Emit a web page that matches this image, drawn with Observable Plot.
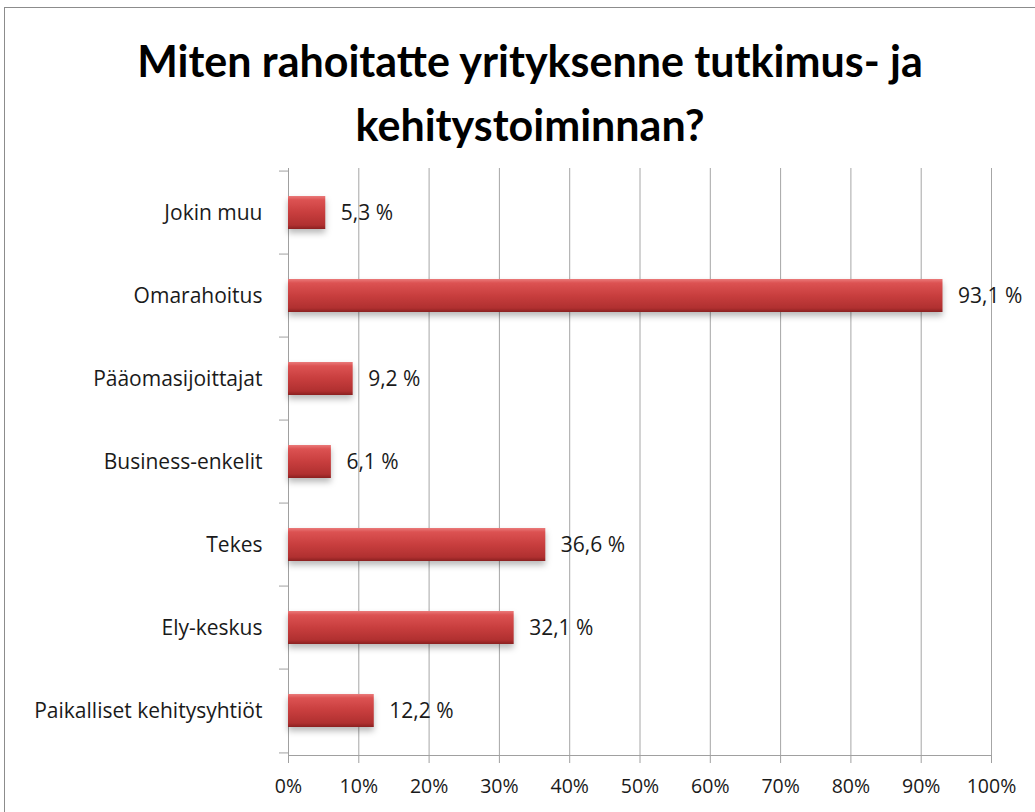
<!DOCTYPE html>
<html><head><meta charset="utf-8">
<script src="https://cdn.jsdelivr.net/npm/d3@7"></script>
<script src="https://cdn.jsdelivr.net/npm/@observablehq/plot@0.6"></script>
<style>
body{margin:0;background:#fff;width:1035px;height:812px;overflow:hidden;position:relative;font-family:Lato,sans-serif}
#frame{position:absolute;left:4px;top:7px;width:1040px;height:820px;border:1.5px solid #8c8c8c;box-sizing:border-box}
#title{position:absolute;left:0;width:1060px;top:29px;text-align:center;font-weight:bold;font-size:43px;line-height:64px;color:#000}
#chart{position:absolute;left:0;top:150px}
</style></head><body>
<div id="frame"></div>
<div id="title">Miten rahoitatte yrityksenne tutkimus- ja<br>kehitystoiminnan?</div>
<div id="chart"></div>
<script>
const categories = ["Jokin muu","Omarahoitus","Pääomasijoittajat","Business-enkelit","Tekes","Ely-keskus","Paikalliset kehitysyhtiöt"];
const values = [0.053, 0.931, 0.092, 0.061, 0.366, 0.321, 0.122];
const xTicks = [0,0.1,0.2,0.3,0.4,0.5,0.6,0.7,0.8,0.9,1];

const data = categories.map((c,i)=>({category:c, value:values[i]}));
const W=1035, H=662, mT=18, mB=57;
const step = (H-mT-mB)/categories.length;
const fmt = v => (v*100).toFixed(1).replace(".", ",") + " %";
const FONT = "'Open Sans', sans-serif";

const chart = Plot.plot({
  width:W, height:H, marginLeft:288, marginRight:44, marginTop:mT, marginBottom:mB,
  style:{fontFamily:FONT, fontSize:"19px", color:"#1a1a1a", background:"transparent"},
  x:{domain:[0,1], label:null},
  y:{domain:categories, paddingInner:0.6, paddingOuter:0.3, label:null},
  marks:[
    Plot.gridX(xTicks,{stroke:"#a6a6a6", strokeOpacity:1}),
    Plot.frame({anchor:"bottom", stroke:"#a0a0a0"}),
    Plot.frame({anchor:"left", stroke:"#a0a0a0"}),
    Plot.axisX(xTicks,{tickSize:8, tickPadding:16, stroke:"#a0a0a0", fill:"#1a1a1a", tickFormat:d3.format(".0%"), fontSize:19.5, label:null}),
    Plot.axisY({tickSize:9, dy:-step/2, tickFormat:()=>"", stroke:"#a0a0a0", label:null}),
    Plot.axisY([categories[categories.length-1]],{tickSize:9, dy:step/2, tickFormat:()=>"", stroke:"#a0a0a0", label:null}),
    Plot.axisY({tickSize:0, tickPadding:26, fill:"#1a1a1a", fontSize:21, label:null}),
    Plot.barX(data,{x:"value", y:"category", fill:"url(#redgrad)"}),
    Plot.text(data,{x:"value", y:"category", text:d=>fmt(d.value), textAnchor:"start", dx:15, fill:"#1a1a1a", fontSize:21})
  ]
});
const ns="http://www.w3.org/2000/svg";
const defs=document.createElementNS(ns,"defs");
defs.innerHTML=`<linearGradient id="redgrad" x1="0" y1="0" x2="0" y2="1">
<stop offset="0" stop-color="#ea7a7a"/><stop offset="0.12" stop-color="#dc5252"/>
<stop offset="0.5" stop-color="#c83e3e"/><stop offset="0.88" stop-color="#b03030"/>
<stop offset="1" stop-color="#8a2020"/></linearGradient>`;
chart.insertBefore(defs, chart.firstChild);
const bars=chart.querySelector('g[aria-label="bar"]');
if(bars) bars.style.filter="drop-shadow(0px 4px 3px rgba(0,0,0,0.28))";
document.getElementById("chart").appendChild(chart);
</script>
</body></html>
